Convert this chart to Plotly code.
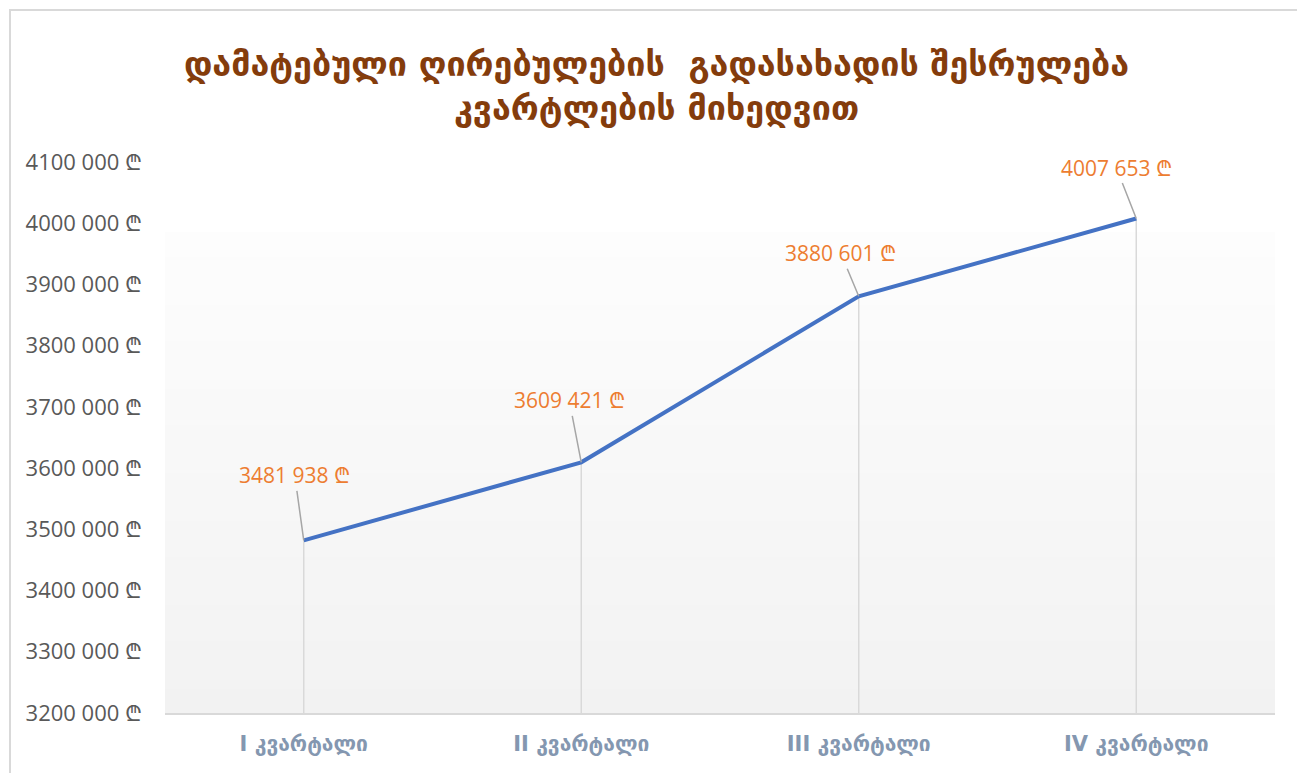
import plotly.graph_objects as go

categories = ["I კვარტალი", "II კვარტალი", "III კვარტალი", "IV კვარტალი"]
values = [3481938, 3609421, 3880601, 4007653]
tick_values = [3200000, 3300000, 3400000, 3500000, 3600000, 3700000, 3800000, 3900000, 4000000, 4100000]
tick_labels = ["3200 000 ₾", "3300 000 ₾", "3400 000 ₾", "3500 000 ₾", "3600 000 ₾",
               "3700 000 ₾", "3800 000 ₾", "3900 000 ₾", "4000 000 ₾", "4100 000 ₾"]
value_labels = ["3481 938 ₾", "3609 421 ₾", "3880 601 ₾", "4007 653 ₾"]
title_text = "დამატებული ღირებულების  გადასახადის შესრულება<br>კვარტლების მიხედვით"

OFF = 8  # page body margin
W, H = 1305 - OFF, 773 - OFF
L, T = 165 - OFF, 162 - OFF
R = W - (1275 - OFF)
B = H - (713 - OFF)
plot_h = H - T - B
plot_w = W - L - R

fig = go.Figure()

# drop lines from points to axis
dx, dy = [], []
for c, v in zip(categories, values):
    dx += [c, c, None]
    dy += [tick_values[0], v, None]
fig.add_trace(go.Scatter(x=dx, y=dy, mode="lines", line=dict(color="#d9d9d9", width=1.5),
                         hoverinfo="skip", showlegend=False))

fig.add_trace(go.Scatter(x=categories, y=values, mode="lines",
                         line=dict(color="#4472C4", width=4), showlegend=False))

def px_x(p):
    return (p - OFF - L) / plot_w

def px_y(p):
    return (H - B - (p - OFF)) / plot_h

# gradient background bands
shapes = []
n = 40
top_frac = px_y(233)
for i in range(n):
    y0 = top_frac * i / n
    y1 = top_frac * (i + 1) / n
    t = i / (n - 1)
    g = int(round(0xf2 + (0xfd - 0xf2) * t))
    shapes.append(dict(type="rect", xref="paper", yref="paper", x0=0, x1=1, y0=y0, y1=y1 + 0.002,
                       fillcolor=f"rgb({g},{g},{g})", line=dict(width=0), layer="below"))

# outer border
shapes.append(dict(type="rect", xref="paper", yref="paper", x0=px_x(10), x1=px_x(1303),
                   y0=px_y(800), y1=px_y(10), line=dict(color="#d9d9d9", width=2),
                   fillcolor="rgba(0,0,0,0)", layer="below"))

offsets = [(-9, -65), (-12, -62), (-18, -43), (-20, -51)]
annotations = []
for c, v, lab, (ax, ay) in zip(categories, values, value_labels, offsets):
    annotations.append(dict(x=c, y=v, xref="x", yref="y", text=lab, showarrow=True,
                            arrowhead=0, arrowwidth=1.5, arrowcolor="#a6a6a6",
                            ax=ax, ay=ay, standoff=0,
                            font=dict(family="Open Sans, Noto Sans, DejaVu Sans", size=21, color="#ED7D31")))

fig.update_layout(
    width=W, height=H,
    margin=dict(l=L, r=R, t=T, b=B),
    paper_bgcolor="white", plot_bgcolor="rgba(0,0,0,0)",
    title=dict(text=title_text, x=0.5, xref="container", xanchor="center",
               y=1 - (76 - OFF) / H, yref="container", yanchor="middle",
               font=dict(family="DejaVu Sans", size=34, color="#843c0c", weight="bold")),
    shapes=shapes, annotations=annotations,
    xaxis=dict(type="category", showgrid=False, showline=True, linecolor="#d9d9d9", linewidth=2,
               ticks="", range=[-0.5, 3.5], ticklabelstandoff=11,
               tickfont=dict(family="DejaVu Sans", size=21, color="#8497b0", weight="bold")),
    yaxis=dict(range=[3200000, 4100000], tickvals=tick_values, ticktext=tick_labels,
               showgrid=False, zeroline=False, showline=False, ticks="", ticklabelstandoff=22,
               tickfont=dict(family="Open Sans, Noto Sans, DejaVu Sans", size=22, color="#595959")),
)

fig.write_html("out.html")
